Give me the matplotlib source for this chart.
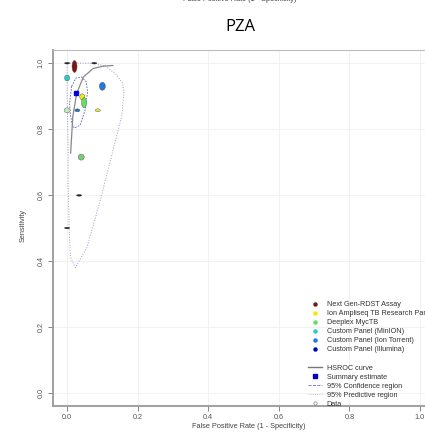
import numpy as np
import matplotlib.pyplot as plt
from matplotlib.patches import Ellipse
from matplotlib.lines import Line2D

plt.rcParams['font.family'] = ['Liberation Sans', 'DejaVu Sans']

# index test panels (legend)
panels = ['Next Gen-RDST Assay', 'Ion Ampliseq TB Research Panel', 'Deeplex MycTB',
          'Custom Panel (MinION)', 'Custom Panel (Ion Torrent)', 'Custom Panel (Illumina)']
panel_colors = ['#7a1712', '#eeee00', '#66dd66', '#22cccc', '#1e78dd', '#0000cc']

# individual studies: false positive rate, sensitivity, colour
study_fpr = [0.021, 0.0, 0.077, 0.034, 0.0, 0.0, 0.043, 0.048, 0.100, 0.0, 0.029, 0.087, 0.040]
study_sens = [0.990, 1.0, 1.0, 0.599, 0.500, 0.955, 0.898, 0.880, 0.930, 0.857, 0.857, 0.857, 0.715]
study_color = ['#7a1712', '#222222', '#222222', '#222222', '#222222', '#22cccc', '#eeee00',
               '#66dd66', '#1e78dd', '#bfe8bf', '#1e78bb', '#e6e64a', '#77cc77']
# ellipse size in pixels (width ~ specificity n, height ~ sensitivity n)
study_w = [5, 5, 5, 5, 5, 5, 5, 5, 6, 6, 5, 5, 6]
study_h = [12, 1.6, 1.6, 1.6, 1.6, 6, 6, 10, 8, 5, 3, 3, 6]

# summary estimate
sum_fpr, sum_sens = 0.025, 0.910

# HSROC curve
hsroc_fpr = [0.010, 0.016, 0.027, 0.046, 0.074, 0.102, 0.130]
hsroc_sens = [0.727, 0.837, 0.908, 0.958, 0.984, 0.991, 0.993]

# 95% confidence region
conf_fpr = [0.013, 0.007, 0.009, 0.013, 0.020, 0.037, 0.051, 0.058, 0.054, 0.041, 0.025, 0.013]
conf_sens = [0.930, 0.880, 0.845, 0.822, 0.803, 0.812, 0.858, 0.913, 0.944, 0.958, 0.955, 0.930]

# 95% predictive region
pred_fpr = [0.0, 0.040, 0.077, 0.110, 0.140, 0.157, 0.161, 0.155, 0.130, 0.093, 0.056,
            0.023, 0.010, 0.006, 0.003, 0.003, 0.0, 0.0]
pred_sens = [1.0, 1.0, 1.0, 0.990, 0.965, 0.940, 0.909, 0.840, 0.736, 0.580, 0.440,
             0.380, 0.410, 0.485, 0.640, 0.740, 0.900, 1.0]

fig = plt.figure(figsize=(4.25, 4.4), dpi=100)
W, H = 425, 440
ax = fig.add_axes([53 / W, 34 / H, 381 / W, 356 / H])
ax.set_xlim(-0.04, 1.04)
ax.set_ylim(-0.04, 1.04)

ax.grid(color='#efefef', lw=0.6)
ax.set_axisbelow(True)
for s in ['left', 'bottom']:
    ax.spines[s].set_color('#999999')
    ax.spines[s].set_linewidth(1.3)
ax.spines['top'].set_color('#bbbbbb')
ax.spines['top'].set_linewidth(0.8)
ax.spines['right'].set_visible(False)

ticks = [0.0, 0.2, 0.4, 0.6, 0.8, 1.0]
ax.set_xticks(ticks)
ax.set_yticks(ticks)
ax.set_xticklabels([f'{t:.1f}' for t in ticks])
ax.set_yticklabels([f'{t:.1f}' for t in ticks], rotation=90, va='center')
ax.tick_params(labelsize=5.2, colors='#555555', length=3.5, width=0.5, pad=2.5)

# regions and curve
ax.plot(pred_fpr, pred_sens, ls=':', color='#9a9ad8', lw=0.7)
ax.plot(conf_fpr, conf_sens, ls='--', color='#5a5acc', lw=0.6, dashes=(2, 1.5))
ax.plot(hsroc_fpr, hsroc_sens, color='#888888', lw=0.9)

# study ellipses
px_x = 352 / 1.0
px_y = 330 / 1.0
for x, y, c, w, h in zip(study_fpr, study_sens, study_color, study_w, study_h):
    e = Ellipse((x, y), w / px_x, h / px_y, facecolor=c,
                edgecolor='#555555' if c != '#222222' else c, lw=0.3, zorder=3)
    ax.add_patch(e)

ax.plot([sum_fpr], [sum_sens], marker='s', ms=2.3, color='#0000dd', ls='', zorder=4)

# labels
fig.text(240 / W, 1 - 27 / H, 'PZA', ha='center', va='center', fontsize=12,
         family=['Open Sans', 'DejaVu Sans'])
fig.text(240 / W, 1 + 1 / H, 'False Positive Rate (1 - Specificity)', ha='center',
         va='center', fontsize=5.3, color='#444444')
fig.text(249 / W, 1 - 426 / H, 'False Positive Rate (1 - Specificity)', ha='center',
         va='center', fontsize=5.3, color='#444444')
fig.text(23 / W, 1 - 225 / H, 'Sensitivity', ha='center', va='center', rotation=90,
         fontsize=5.3, color='#444444')

# legend
handles = [Line2D([], [], marker='o', ls='', color=c, ms=2.2) for c in panel_colors]
labels = list(panels)
handles.append(Line2D([], [], ls='', marker=''))
labels.append(' ')
handles += [
    Line2D([], [], color='#777777', lw=1.0),
    Line2D([], [], marker='s', ls='', color='#0000cc', ms=2.2),
    Line2D([], [], ls='--', color='#6666cc', lw=0.6),
    Line2D([], [], ls=':', color='#aaaadd', lw=0.6),
    Line2D([], [], marker='o', ls='', mfc='none', mec='#888888', ms=2.4, mew=0.5),
]
labels += ['HSROC curve', 'Summary estimate', '95% Confidence region',
           '95% Predictive region', 'Data']
leg = ax.legend(handles, labels, loc='upper left', bbox_to_anchor=(308 / W, 1 - 301 / H),
                bbox_transform=fig.transFigure, frameon=False, fontsize=5.2,
                handlelength=1.9, handletextpad=0.7, labelspacing=0.28,
                borderpad=0, borderaxespad=0)
for t in leg.get_texts():
    t.set_color('#333333')

fig.savefig('out.png', dpi=100)
